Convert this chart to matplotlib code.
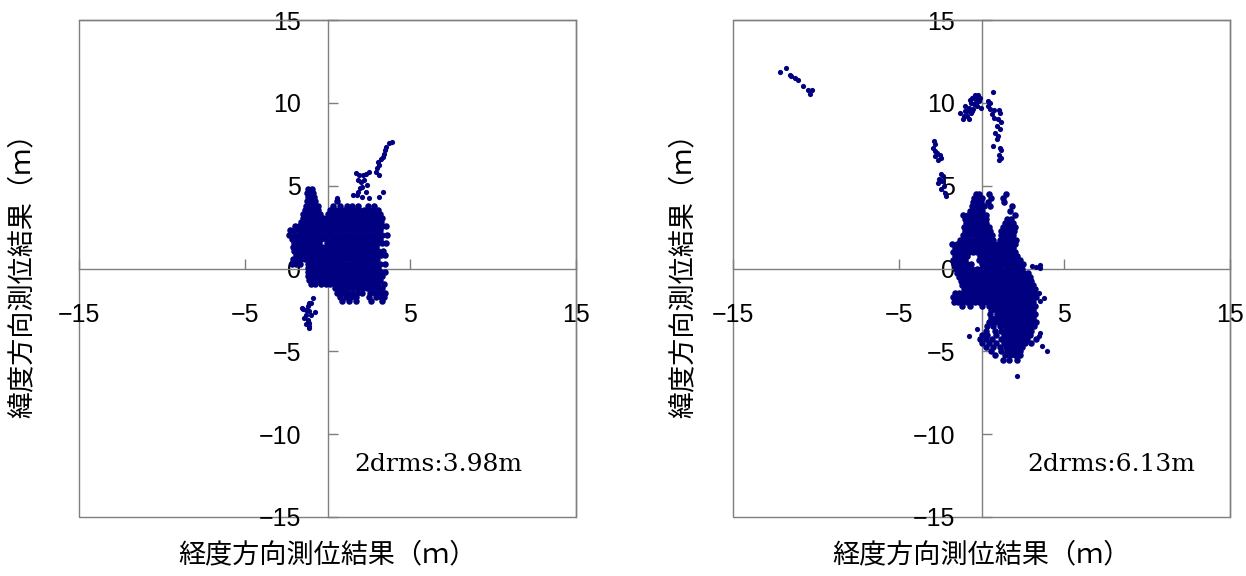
import matplotlib
matplotlib.use("Agg")
import matplotlib.pyplot as plt
from matplotlib.patches import Rectangle

# Positioning error of two receivers, metres east (lon) / north (lat).
# Dense parts are kept as rows: (lat, [lon, lon, ...]); sparse parts as (lon, lat).

left_body_rows = [
    (4.80, [-1.15, -0.95]),
    (4.55, [-1.25, -1.05, -0.85]),
    (4.30, [-1.2, -1.0, -0.8]),
    (4.05, [-1.25, -1.0, -0.75, 0.55]),
    (3.80, [-1.3, -1.05, -0.8, -0.55, 0.35, 0.75, 1.15, 1.5, 1.85, 2.45, 2.8]),
    (3.55, [-1.35, -1.1, -0.85, -0.6, 0.15, 0.45, 0.75, 1.0, 1.3, 1.6, 1.9, 2.2, 2.5, 2.8, 3.05]),
    (3.30, [-1.45, -1.2, -0.95, -0.7, -0.45, 0.05, 0.3, 0.6, 0.9, 1.2, 1.5, 1.75, 2.05, 2.35, 2.6, 2.9, 3.15]),
    (3.05, [-1.5, -1.25, -1.0, -0.75, -0.5, -0.25, -0.05, 0.15, 0.45, 0.75, 1.0, 1.3, 1.6, 1.9, 2.2, 2.45, 2.75, 3.05, 3.3]),
    (2.80, [-1.6, -1.35, -1.1, -0.85, -0.6, -0.35, -0.1, 0.05, 0.3, 0.6, 0.9, 1.15, 1.45, 1.75, 2.05, 2.3, 2.6, 2.9, 3.2]),
    (2.55, [-1.95, -1.7, -1.45, -1.2, -0.95, -0.7, -0.45, -0.2, -0.02, 0.15, 0.45, 0.75, 1.0, 1.3, 1.6, 1.9, 2.2, 2.45, 2.75, 3.0, 3.3, 3.55]),
    (2.30, [-2.25, -2.0, -1.75, -1.5, -1.25, -1.0, -0.75, -0.5, -0.25, 0.05, 0.3, 0.6, 0.9, 1.15, 1.45, 1.75, 2.05, 2.3, 2.6, 2.9, 3.15]),
    (2.05, [-2.3, -2.05, -1.8, -1.55, -1.3, -1.05, -0.8, -0.55, -0.3, -0.08, 0.15, 0.45, 0.75, 1.0, 1.3, 1.6, 1.9, 2.2, 2.45, 2.75, 3.05, 3.3, 3.6]),
    (1.80, [-2.15, -1.9, -1.65, -1.4, -1.15, -0.9, -0.65, -0.4, -0.1, 0.05, 0.3, 0.6, 0.9, 1.15, 1.45, 1.75, 2.05, 2.3, 2.6, 2.9, 3.15]),
    (1.55, [-2.0, -1.75, -1.5, -1.25, -1.0, -0.75, -0.5, -0.02, 0.15, 0.45, 0.75, 1.0, 1.3, 1.6, 1.9, 2.2, 2.45, 2.75, 3.05, 3.3, 3.55]),
    (1.30, [-2.1, -1.85, -1.6, -1.35, -1.1, -0.85, -0.6, -0.35, -0.1, 0.05, 0.3, 0.6, 0.9, 1.15, 1.45, 1.75, 2.05, 2.3, 2.6, 2.9]),
    (1.05, [-2.0, -1.75, -1.5, -1.25, -1.0, -0.75, -0.5, -0.25, -0.05, 0.15, 0.45, 0.75, 1.0, 1.3, 1.6, 1.9, 2.2, 2.45, 2.75, 3.05, 3.35]),
    (0.80, [-1.9, -1.65, -1.4, -1.15, -0.9, -0.65, -0.4, -0.15, 0.05, 0.3, 0.6, 0.9, 1.15, 1.45, 1.75, 2.05, 2.3, 2.6, 2.9, 3.2, 3.5]),
    (0.55, [-2.1, -1.85, -1.6, -1.35, -1.1, -0.85, -0.6, -0.35, -0.1, 0.15, 0.45, 0.75, 1.0, 1.3, 1.6, 1.9, 2.2, 2.45, 2.75, 3.0]),
    (0.30, [-2.15, -1.9, -1.65, -1.2, -0.95, -0.7, -0.45, -0.2, 0.05, 0.3, 0.6, 0.9, 1.15, 1.45, 1.75, 2.05, 2.3, 2.6, 2.9, 3.15, 3.45]),
    (0.05, [-1.2, -0.95, -0.7, -0.45, -0.2, -0.02, 0.15, 0.45, 0.75, 1.0, 1.3, 1.6, 1.9, 2.2, 2.45, 2.75, 3.05]),
    (-0.20, [-1.15, -0.9, -0.65, -0.4, -0.15, 0.05, 0.3, 0.6, 0.9, 1.15, 1.45, 1.75, 2.05, 2.3, 2.6, 2.9, 3.2, 3.5]),
    (-0.45, [-1.2, -0.95, -0.7, -0.45, -0.2, -0.02, 0.15, 0.45, 0.75, 1.0, 1.3, 1.6, 1.9, 2.2, 2.45, 2.75, 3.0, 3.3]),
    (-0.70, [-1.1, -0.85, -0.6, -0.35, -0.1, 0.1, 0.3, 0.6, 0.9, 1.15, 1.45, 1.75, 2.05, 2.3, 2.6, 2.9, 3.15]),
    (-0.95, [-1.0, -0.75, -0.4, -0.1, 0.15, 0.45, 0.75, 1.0, 1.3, 1.6, 1.9, 2.2, 2.45, 2.75, 3.05, 3.4]),
    (-1.20, [0.45, 0.7, 1.0, 1.25, 1.55, 1.85, 2.15, 2.4, 2.7, 3.0, 3.3]),
    (-1.45, [0.6, 0.9, 1.2, 1.5, 1.8, 2.1, 2.55, 2.85, 3.15, 3.45]),
    (-1.70, [0.75, 1.1, 1.4, 1.75, 2.5, 2.9, 3.2, 3.4]),
    (-1.95, [0.85, 1.3, 1.7, 2.6, 3.3]),
]

left_tail = [
    (3.92, 7.61), (3.72, 7.55), (3.56, 7.34), (3.48, 7.14), (3.42, 6.94), (3.32, 6.74),
    (3.22, 6.60), (3.02, 6.44), (3.12, 6.24), (2.96, 6.08), (2.92, 5.84), (3.08, 5.63),
    (2.52, 5.84), (2.31, 5.73), (2.15, 5.63), (1.91, 5.63), (1.75, 5.79), (2.21, 5.33),
    (2.01, 5.23), (1.87, 5.33), (2.41, 5.03), (2.11, 4.93), (1.95, 4.83), (1.87, 4.63),
    (2.31, 4.63), (2.11, 4.33), (2.52, 4.23), (1.81, 4.43), (3.32, 4.63), (3.12, 4.33),
    (0.60, 4.23), (1.51, 4.43),
]

left_south = [
    (-0.89, -1.77), (-0.98, -2.07), (-1.19, -2.28), (-1.49, -2.47), (-1.09, -2.58),
    (-0.78, -2.64), (-1.29, -2.78), (-0.98, -2.78), (-1.19, -3.08), (-1.09, -3.28),
    (-1.29, -3.38), (-1.13, -3.58), (-1.51, -2.41), (-1.31, -2.52), (-1.10, -2.10),
    (-1.40, -3.00), (-1.20, -3.20), (-1.10, -3.50),
]

right_body_rows = [
    (4.50, [-0.35, -0.15, 0.45, 1.45]),
    (4.25, [-0.45, -0.2, 0.05, 0.6, 1.3]),
    (4.00, [-0.5, -0.3, -0.05, 0.4, 1.35]),
    (3.75, [-0.55, -0.3, -0.1, 0.15, 0.5, 1.85]),
    (3.50, [-0.7, -0.45, -0.2, 0.05, 1.7]),
    (3.25, [-1.1, -0.8, -0.55, -0.3, -0.05, 0.3, 2.05]),
    (3.00, [-1.0, -0.75, -0.5, -0.25, 0.0, 0.25, 1.55, 1.8]),
    (2.75, [-0.95, -0.7, -0.45, -0.2, 0.05, 0.3, 1.4, 1.65, 1.9]),
    (2.50, [-1.05, -0.8, -0.55, -0.3, -0.05, 0.2, 0.45, 1.3, 1.55, 1.8, 2.0]),
    (2.25, [-1.0, -0.75, -0.5, -0.25, 0.0, 0.25, 0.5, 1.2, 1.45, 1.7, 1.95]),
    (2.00, [-1.1, -0.85, -0.6, -0.35, -0.1, 0.15, 0.4, 0.65, 1.15, 1.4, 1.65, 1.9]),
    (1.75, [-1.3, -1.05, -0.8, -0.55, -0.3, -0.05, 0.2, 0.45, 0.7, 1.1, 1.35, 1.6, 1.85, 2.1]),
    (1.50, [-1.8, -1.5, -1.25, -1.0, -0.75, -0.5, -0.25, 0.0, 0.25, 0.5, 0.75, 1.0, 1.25, 1.5, 1.75, 2.0]),
    (1.25, [-1.6, -1.35, -1.1, -0.85, -0.6, -0.35, -0.1, 0.15, 0.4, 0.65, 0.9, 1.15, 1.4, 1.65, 1.9]),
    (1.00, [-1.75, -1.5, -1.25, -1.0, -0.75, -0.5, -0.25, 0.0, 0.25, 0.5, 0.75, 1.0, 1.25, 1.5, 1.75, 2.05]),
    (0.75, [-1.6, -1.35, -1.1, -0.85, -0.1, 0.15, 0.4, 0.65, 0.9, 1.15, 1.4, 1.65, 1.9, 2.15]),
    (0.50, [-1.75, -1.5, -1.25, -1.0, -0.15, 0.1, 0.35, 0.6, 0.85, 1.1, 1.35, 1.6, 1.85, 2.1, 2.35]),
    (0.25, [-1.65, -1.4, -1.15, -0.9, -0.65, 0.0, 0.25, 0.5, 0.75, 1.0, 1.25, 1.5, 1.75, 2.0, 2.25, 2.5]),
    (0.00, [-1.55, -1.3, -1.05, -0.8, -0.55, -0.3, -0.05, 0.2, 0.45, 0.7, 0.95, 1.2, 1.45, 1.7, 1.95, 2.2, 2.45]),
    (-0.25, [-1.45, -1.2, -0.95, -0.7, -0.45, -0.2, 0.05, 0.3, 0.55, 0.8, 1.05, 1.3, 1.55, 1.8, 2.05, 2.3, 2.55, 2.8]),
    (-0.50, [-1.35, -1.1, -0.85, -0.6, -0.35, -0.1, 0.15, 0.4, 0.65, 0.9, 1.15, 1.4, 1.65, 1.9, 2.15, 2.4, 2.65, 2.9]),
    (-0.75, [-1.25, -1.0, -0.75, -0.5, -0.25, 0.0, 0.25, 0.5, 0.75, 1.0, 1.25, 1.5, 1.75, 2.0, 2.25, 2.5, 2.75, 3.0]),
    (-1.00, [-1.15, -0.9, -0.65, -0.4, -0.15, 0.1, 0.35, 0.6, 0.85, 1.1, 1.35, 1.6, 1.85, 2.1, 2.35, 2.6, 2.85, 3.1]),
    (-1.25, [-1.05, -0.8, -0.55, -0.3, -0.05, 0.2, 0.45, 0.7, 0.95, 1.2, 1.45, 1.7, 1.95, 2.2, 2.45, 2.7, 2.95, 3.2]),
    (-1.50, [-1.6, -1.35, -1.1, -0.85, -0.6, -0.35, -0.1, 0.15, 0.4, 0.65, 0.9, 1.15, 1.4, 1.65, 1.9, 2.15, 2.4, 2.65, 2.9, 3.15]),
    (-1.75, [-1.75, -1.5, -1.25, -1.0, -0.75, -0.5, -0.25, 0.0, 0.25, 0.5, 0.75, 1.0, 1.25, 1.5, 1.75, 2.0, 2.25, 2.5, 2.75, 3.0, 3.3]),
    (-2.00, [-1.65, -1.4, -1.15, -0.9, -0.65, -0.4, -0.15, 0.1, 0.35, 0.6, 0.85, 1.1, 1.35, 1.6, 1.85, 2.1, 2.35, 2.6, 2.85, 3.1]),
    (-2.25, [-1.2, -0.7, 0.0, 0.45, 0.7, 0.95, 1.2, 1.45, 1.7, 1.95, 2.2, 2.45, 2.7, 2.95, 3.2]),
    (-2.50, [0.55, 0.85, 1.1, 1.35, 1.6, 1.85, 2.1, 2.35, 2.6, 2.85, 3.1]),
    (-2.75, [0.5, 0.95, 1.2, 1.45, 1.7, 1.95, 2.2, 2.45, 2.7, 2.95, 3.2]),
    (-3.00, [0.6, 0.85, 1.1, 1.35, 1.6, 1.85, 2.1, 2.35, 2.6, 2.85, 3.1]),
    (-3.25, [0.45, 0.75, 1.0, 1.25, 1.5, 1.75, 2.0, 2.25, 2.5, 2.75, 3.0, 3.3]),
    (-3.50, [0.35, 0.7, 1.1, 1.4, 1.65, 1.9, 2.15, 2.4, 2.65, 2.9, 3.15]),
    (-3.75, [0.3, 0.8, 1.2, 1.5, 1.75, 2.0, 2.25, 2.5, 2.75, 3.0]),
    (-4.00, [0.0, 0.35, 0.9, 1.35, 1.6, 1.85, 2.1, 2.35, 2.6, 2.9]),
    (-4.25, [-0.1, 0.3, 0.65, 1.2, 1.5, 1.75, 2.0, 2.25, 2.5, 2.75, 3.3]),
    (-4.50, [0.05, 0.45, 0.9, 1.35, 1.6, 1.85, 2.1, 2.35, 2.6, 3.0]),
    (-4.75, [0.25, 0.7, 1.1, 1.45, 1.7, 1.95, 2.2, 2.45]),
    (-5.00, [0.55, 1.2, 1.55, 1.8, 2.05, 2.3]),
    (-5.25, [0.8, 1.4, 1.7, 2.0, 2.3]),
    (-5.50, [1.3, 1.65, 2.15]),
]

right_far = [
    (-12.19, 11.85), (-11.83, 12.09), (-11.57, 11.71), (-11.47, 11.61), (-11.23, 11.47),
    (-11.09, 11.35), (-10.76, 11.00), (-10.48, 10.76), (-10.26, 10.76), (-10.38, 10.54),
]

right_north = [
    (-1.31, 9.36), (-1.07, 9.20), (-1.11, 9.00), (-0.87, 9.50), (-0.76, 9.70), (-0.97, 9.80),
    (-0.66, 10.00), (-0.56, 10.30), (-0.42, 10.50), (-0.22, 10.50), (-0.36, 10.20),
    (-0.16, 10.10), (-0.26, 9.80), (-0.46, 9.90), (-0.62, 9.40), (-0.76, 9.00), (-0.06, 9.70),
    (-0.50, 9.64), (-0.87, 9.20), (-0.10, 10.30), (-0.70, 10.16), (-0.34, 10.00),
    (-0.56, 9.50), (-0.97, 9.50), (-0.30, 10.40), (-0.45, 10.35),
]

right_column = [
    (0.70, 10.64), (0.38, 10.10), (0.50, 10.00), (0.38, 9.80), (0.54, 9.64), (0.78, 9.56),
    (1.05, 9.56), (1.11, 9.36), (0.64, 9.30), (0.78, 9.10), (0.99, 9.00), (1.15, 8.83),
    (0.91, 8.60), (1.09, 8.40), (0.80, 8.19), (0.99, 7.99), (0.91, 7.79), (1.11, 7.28),
    (1.19, 7.14), (1.07, 6.88), (1.15, 6.68), (1.05, 6.52), (0.70, 7.42),
]

right_west = [
    (-2.88, 7.69), (-2.82, 7.53), (-2.92, 7.28), (-2.82, 7.08), (-2.68, 6.98), (-2.52, 6.88),
    (-2.78, 6.78), (-2.43, 6.68), (-2.64, 6.54), (-2.47, 5.73), (-2.31, 5.57), (-2.58, 5.41),
    (-2.37, 5.27), (-2.64, 5.17), (-2.27, 4.97), (-2.43, 4.77), (-2.23, 4.57), (-2.17, 4.37),
]

right_strays = [
    (3.06, 0.14), (3.26, 0.10), (3.52, 0.24), (3.56, 0.04), (3.76, -1.77), (3.56, -1.97),
    (3.46, -1.47), (3.96, -4.99), (3.66, -4.69), (3.46, -4.08), (3.56, -3.88),
    (2.15, -6.46), (-0.76, -4.08), (-0.26, -3.68),
]

drms_labels = ["2drms:3.98m", "2drms:6.13m"]
drms_pos = [(1.63, -12.23), (2.78, -12.23)]

xticks = [-15, -5, 5, 15]
yticks = [-15, -10, -5, 0, 5, 10, 15]
xlabel = "経度方向測位結果（ｍ）"
ylabel = "緯度方向測位結果（ｍ）"

dot_color = "#000080"
axis_color = "#7f7f7f"


def from_rows(rows):
    lon = [x for lat, xs in rows for x in xs]
    lat = [lat for lat, xs in rows for x in xs]
    return lon, lat


def from_points(*groups):
    lon = [p[0] for g in groups for p in g]
    lat = [p[1] for g in groups for p in g]
    return lon, lat


def draw_panel(ax, rows, groups, label, pos, ylab_x):
    # dense body drawn with slightly larger dots so overlapping fixes merge
    bx, by = from_rows(rows)
    ax.scatter(bx, by, s=22, color=dot_color, linewidths=0, zorder=3)
    px, py = from_points(*groups)
    ax.scatter(px, py, s=14, color=dot_color, linewidths=0, zorder=3)

    ax.set_xlim(-15, 15)
    ax.set_ylim(-15, 15)
    ax.spines["left"].set_position(("data", 0))
    ax.spines["bottom"].set_position(("data", 0))
    for side in ["left", "bottom", "top", "right"]:
        ax.spines[side].set_color(axis_color)
        ax.spines[side].set_linewidth(1.0)
    ax.add_patch(Rectangle((0, 0), 1, 1, transform=ax.transAxes, fill=False,
                           ec=axis_color, lw=1.0, clip_on=False, zorder=1))

    ax.set_xticks(xticks)
    ax.set_yticks(yticks)
    ax.tick_params(axis="x", direction="in", length=7, width=1.0, color=axis_color,
                   pad=25, labelsize=18)
    ax.tick_params(axis="y", direction="in", length=7, width=1.0, color=axis_color,
                   pad=19, labelsize=18)
    for t in ax.get_xticklabels() + ax.get_yticklabels():
        t.set_fontfamily("Liberation Sans")

    ax.text(pos[0], pos[1], label, fontsize=18, family="DejaVu Serif",
            ha="left", va="baseline")
    ax.text(0.5, -0.077, xlabel, transform=ax.transAxes, ha="center", va="center",
            fontsize=19.5, family=["Noto Sans CJK JP", "DejaVu Sans"])
    ax.text(ylab_x, 0.5, ylabel, transform=ax.transAxes, ha="center", va="center",
            rotation=90, fontsize=19.5, family=["Noto Sans CJK JP", "DejaVu Sans"])


fig = plt.figure(figsize=(12.46, 5.76), dpi=100)
ax1 = fig.add_axes([79 / 1246, 59 / 576, 497 / 1246, 497 / 576])
ax2 = fig.add_axes([733 / 1246, 59 / 576, 497 / 1246, 497 / 576])

draw_panel(ax1, left_body_rows, [left_tail, left_south], drms_labels[0], drms_pos[0], -0.115)
draw_panel(ax2, right_body_rows, [right_far, right_north, right_column, right_west, right_strays],
           drms_labels[1], drms_pos[1], -0.10)

fig.savefig("out.png", dpi=100)
